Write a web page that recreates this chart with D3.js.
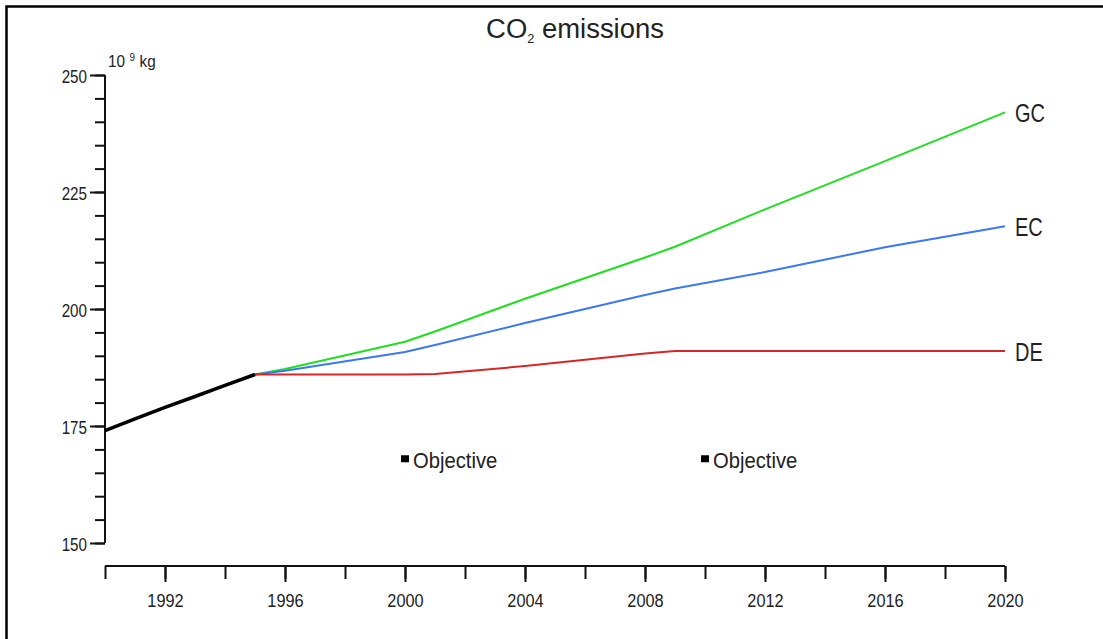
<!DOCTYPE html>
<html lang="en">
<head>
<meta charset="utf-8">
<title>CO2 emissions</title>
<style>
  body { margin: 0; background: #fff; }
  text { font-family: "Liberation Sans", Arial, sans-serif; fill: #222; }
</style>
</head>
<body>
<svg width="1103" height="639"></svg>
<script src="https://d3js.org/d3.v7.min.js"></script>
<script>
// history, 1990-1995
var histYears = [1990, 1991, 1992, 1993, 1994, 1995];
var histValues = [174, 176.5, 179, 181.3, 183.7, 186];

// scenarios from 1995 on
var scenYears = [1995, 1996, 2000, 2001, 2004, 2008, 2009, 2012, 2016, 2020];
var gcValues = [186, 187.2, 193, 195.2, 202.2, 211, 213.3, 221.3, 231.6, 242];
var ecValues = [186, 186.8, 190.8, 192.3, 197, 203, 204.4, 207.9, 213.2, 217.7];
var deValues = [186, 186, 186, 186.1, 187.8, 190.5, 191, 191, 191, 191];
var scenNames = ["GC", "EC", "DE"];
var scenColors = ["#1fe01f", "#3a78f5", "#d82626"];

// objective points
var objYears = [2000, 2010];
var objValues = [168, 168];

var yMajor = [150, 175, 200, 225, 250];
var xMajor = [1992, 1996, 2000, 2004, 2008, 2012, 2016, 2020];

var svg = d3.select("svg");

// the font in the original is a narrow one, so squash text sideways
function squeeze(sel, sx) {
  sel.each(function() {
    var t = d3.select(this);
    var tx = +t.attr("x") || 0, ty = +t.attr("y") || 0;
    t.attr("x", 0).attr("y", 0)
      .attr("transform", "translate(" + tx + "," + ty + ") scale(" + sx + ",1)");
  });
}

// frame
svg.append("rect")
  .attr("x", 6.5).attr("y", 6.5)
  .attr("width", 1200).attr("height", 700)
  .attr("fill", "none").attr("stroke", "#000").attr("stroke-width", 2.5);

var x = d3.scaleLinear().domain([1990, 2020]).range([105, 1005]);
var y = d3.scaleLinear().domain([150, 250]).range([543, 75]);

// y axis: major ticks long, minor every 5
var yAxisG = svg.append("g").attr("transform", "translate(105,0)");
yAxisG.call(d3.axisLeft(y).tickValues(d3.range(150, 251, 5)).tickSize(10).tickFormat(""));
yAxisG.append("g").call(d3.axisLeft(y).tickValues(yMajor).tickSize(15));
yAxisG.selectAll(".domain").attr("d", "M0," + y(150) + "V" + y(250))
  .attr("stroke", "#111").attr("stroke-width", 2);
yAxisG.selectAll("line").attr("stroke", "#111").attr("stroke-width", 2);
yAxisG.selectAll("text")
  .attr("x", -18).attr("y", 7).attr("dy", null)
  .style("font-size", "19px").attr("fill", "#333")
  .call(squeeze, 0.8);

// x axis
var xAxisG = svg.append("g").attr("transform", "translate(0,566)");
xAxisG.call(d3.axisBottom(x).tickValues(d3.range(1990, 2021, 2)).tickSize(13).tickFormat(""));
xAxisG.append("g").call(d3.axisBottom(x).tickValues(xMajor).tickSize(16).tickFormat(d3.format("d")));
xAxisG.selectAll(".domain").attr("d", "M" + x(1990) + ",0H" + x(2020))
  .attr("stroke", "#111").attr("stroke-width", 2);
xAxisG.selectAll("line").attr("stroke", "#111").attr("stroke-width", 2);
xAxisG.selectAll("text")
  .attr("y", 41).attr("dy", null)
  .style("font-size", "19px").attr("fill", "#333")
  .call(squeeze, 0.86);

// unit label
var unit = svg.append("text").attr("x", 108).attr("y", 67).style("font-size", "17px").attr("fill", "#333");
unit.append("tspan").text("10");
unit.append("tspan").attr("dx", 5).attr("dy", -6).style("font-size", "11px").text("9");
unit.append("tspan").attr("dx", 5).attr("dy", 6).text("kg");
unit.call(squeeze, 0.9);

// title
var title = svg.append("text").attr("x", 575).attr("y", 38)
  .attr("text-anchor", "middle").style("font-size", "28px");
title.append("tspan").text("CO");
title.append("tspan").attr("dy", 5).style("font-size", "13px").text("2");
title.append("tspan").attr("dy", -5).text(" emissions");
title.call(squeeze, 0.98);

var line = d3.line().x(function(d) { return x(d[0]); }).y(function(d) { return y(d[1]); });

// scenario lines
var scenSeries = [gcValues, ecValues, deValues];
scenSeries.forEach(function(vals, i) {
  var pts = scenYears.map(function(yr, j) { return [yr, vals[j]]; });
  svg.append("path").datum(pts)
    .attr("d", line)
    .attr("fill", "none")
    .attr("stroke", scenColors[i])
    .attr("stroke-width", 2);
  svg.append("text")
    .attr("x", x(2020) + 10)
    .attr("y", y(vals[vals.length - 1]) + 10)
    .style("font-size", "25px")
    .text(scenNames[i])
    .call(squeeze, 0.8);
});

// history line
svg.append("path")
  .datum(histYears.map(function(yr, j) { return [yr, histValues[j]]; }))
  .attr("d", line)
  .attr("fill", "none")
  .attr("stroke", "#000")
  .attr("stroke-width", 3.5);

// objectives
objYears.forEach(function(yr, i) {
  svg.append("rect")
    .attr("x", x(yr) - 4).attr("y", y(objValues[i]) - 3.5)
    .attr("width", 8).attr("height", 7)
    .attr("fill", "#000");
  svg.append("text")
    .attr("x", x(yr) + 8)
    .attr("y", y(objValues[i]) + 9)
    .style("font-size", "22px")
    .text("Objective")
    .call(squeeze, 0.92);
});
</script>
</body>
</html>
